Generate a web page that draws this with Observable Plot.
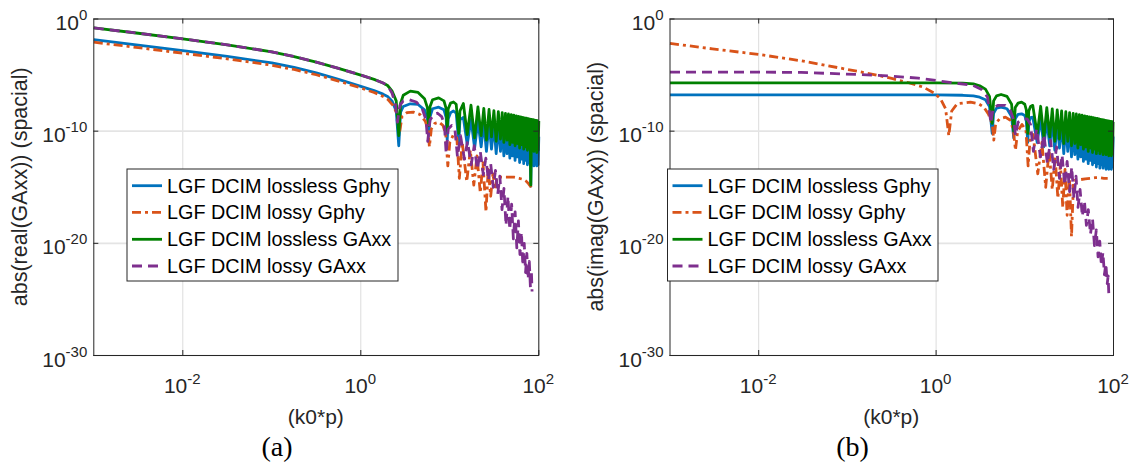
<!DOCTYPE html>
<html>
<head>
<meta charset="utf-8">
<script src="https://cdn.jsdelivr.net/npm/d3@7"></script>
<script src="https://cdn.jsdelivr.net/npm/@observablehq/plot@0.6"></script>
<style>
  body { margin: 0; background: #fff; }
  #wrap { position: relative; width: 1138px; height: 466px; overflow: hidden; background: #fff; }
  #wrap svg { position: absolute; top: 0; }
</style>
</head>
<body>
<div id="wrap"></div>
<script>
// ---------- legend / style data ----------
const seriesNames = ["LGF DCIM lossless Gphy", "LGF DCIM lossy Gphy", "LGF DCIM lossless GAxx", "LGF DCIM lossy GAxx"];
const seriesColors = ["#0072BD", "#D95319", "#008000", "#7E2F8E"];
const seriesDash = [null, "9,4,3,4", null, "10,6"];

// ---------- tick data ----------
const xTicks = [1e-2, 1, 1e2];
const xTickExp = ["-2", "0", "2"];
const yTicks = [1, 1e-10, 1e-20, 1e-30];
const yTickExp = ["0", "-10", "-20", "-30"];

// ---------- panel (a): abs(real(GAxx)); y values are log10 exponents ----------
const aLosslessX = [0.001, 0.00316, 0.01, 0.0316, 0.1, 0.178, 0.316, 0.562, 1, 1.41, 1.78, 2.0, 2.24, 2.5,
  2.67, 2.8, 3.0, 3.6, 4.4, 5.2, 5.6, 5.8, 6.0, 6.4, 7.5, 8.6, 9.1, 9.35, 9.6, 10.2, 11.0, 11.8, 12.6, 13.0,
  14.2, 15.7, 17.3, 19.0, 20.7, 22.5, 24.1, 25.8, 27.6, 29.4, 31.3, 33.2, 35.1, 37.1, 38.8, 40.5,
  42.2, 43.9, 45.6, 47.3, 49.0, 50.7, 52.4, 54.1, 55.8, 57.5, 59.2, 60.9, 62.6, 64.3, 66.0, 67.7,
  69.4, 71.1, 72.8, 74.5, 76.2, 77.9, 79.6, 81.3, 83.0, 84.7, 86.4, 88.1, 89.8, 91.5, 93.2, 94.9,
  96.6, 98.3, 100];
const aLosslessGphyY = [-1.83, -2.32, -2.81, -3.33, -3.92, -4.32, -4.8, -5.38, -6.0, -6.38, -6.7, -6.9, -7.3, -8.2,
  -11.3, -8.3, -7.8, -7.56, -7.62, -8.1, -8.9, -10.4, -8.7, -8.0, -7.86, -8.1, -8.8, -10.8, -8.9, -8.35, -8.2, -8.4, -11.0, -9.0,
  -8.78, -11.2, -8.95, -11.5, -9.11, -11.4, -9.25, -11.8, -9.37, -11.6, -9.48, -12.0, -9.58, -11.8, -9.67, -12.2,
  -9.74, -12.0, -9.81, -12.4, -9.87, -12.2, -9.93, -12.6, -9.99, -12.3, -10.04, -12.8, -10.09, -12.5, -10.13, -12.9,
  -10.18, -12.6, -10.22, -13.0, -10.26, -12.8, -10.30, -14.9, -10.33, -12.9, -10.37, -13.1, -10.40, -12.9, -10.43, -13.1,
  -10.47, -13.0, -10.5];
const aLosslessGAxxY = [-0.79, -1.27, -1.77, -2.3, -2.93, -3.35, -3.85, -4.4, -5.0, -5.38, -5.7, -5.93, -6.4, -7.3,
  -10.4, -7.5, -6.8, -6.43, -6.55, -7.1, -7.9, -9.5, -7.8, -7.2, -7.03, -7.3, -8.0, -10.0, -8.0, -7.5, -7.4, -7.6, -10.2, -8.2,
  -7.53, -10.3, -7.69, -10.6, -7.84, -10.4, -7.96, -10.8, -8.07, -10.5, -8.17, -10.9, -8.26, -10.7, -8.34, -11.0,
  -8.41, -10.8, -8.47, -11.2, -8.53, -11.0, -8.58, -11.3, -8.63, -11.1, -8.68, -11.5, -8.73, -11.2, -8.77, -11.6,
  -8.81, -11.4, -8.85, -11.7, -8.88, -11.5, -8.92, -14.8, -8.95, -11.6, -8.98, -11.8, -9.01, -11.6, -9.04, -11.9,
  -9.07, -11.7, -9.1];
const aLossyGphyX = [0.001, 0.00316, 0.01, 0.0316, 0.1, 0.178, 0.316, 0.562, 1, 1.41, 1.78, 2.0, 2.3, 2.57,
  2.72, 2.9, 3.3, 3.9, 4.6, 5.3, 5.7, 5.9, 6.2, 6.8, 7.6, 8.4, 9.0, 9.5, 10.0, 11.0, 12.0, 12.8,
  13.8, 15.5, 17.0, 18.6, 20.2, 22.0, 23.6, 25.5, 27.0, 28.8, 30.5, 32.3, 34, 40, 46, 52.5, 60, 67, 72, 77, 82, 86.5];
const aLossyGphyY = [-2.07, -2.55, -3.05, -3.55, -4.12, -4.5, -4.97, -5.53, -6.15, -6.55, -6.9, -7.15, -7.7, -8.5,
  -10.2, -8.7, -8.35, -8.3, -8.5, -9.1, -9.9, -11.4, -9.8, -9.3, -9.2, -9.5, -10.3, -13.1, -11.0, -10.3, -10.6, -14.2,
  -11.0, -14.5, -11.7, -14.8, -12.2, -15.5, -12.8, -17.2, -13.4, -15.8, -13.8, -15.2, -14.1, -14.1, -14.1, -14.1, -14.2, -14.3, -14.45, -14.7, -15.0, -15.3];
const aLossyGAxxX = [0.001, 0.00316, 0.01, 0.0316, 0.1, 0.178, 0.316, 0.562, 1, 1.41, 1.78, 2.0, 2.24, 2.45,
  2.58, 2.75, 3.0, 3.5, 4.2, 4.9, 5.4, 5.65, 6.0, 6.6, 7.3, 8.1, 8.7, 9.1, 9.6, 10.5, 11.4, 12.2,
  13.2, 14.6, 15.8, 17.4, 18.8, 20.4, 22.0, 23.8, 25.4, 27.2, 28.8, 30.8, 32.6, 34.6, 36.5, 38.6,
  40.6, 42.8, 45, 47.2, 49.5, 51.8, 54.2, 56.6, 59, 61.4, 63.8, 66.2, 68.6, 71, 73.4, 75.8, 78.2, 80.6, 82.5, 84];
const aLossyGAxxY = [-0.79, -1.27, -1.77, -2.3, -2.93, -3.35, -3.85, -4.4, -5.0, -5.38, -5.7, -5.95, -6.6, -7.6,
  -9.2, -7.7, -7.3, -7.2, -7.4, -8.0, -9.0, -10.9, -9.0, -8.5, -8.4, -8.7, -9.4, -12.0, -9.8, -9.5, -9.8, -12.3,
  -10.4, -12.5, -10.9, -13.0, -11.3, -13.4, -11.8, -13.9, -12.4, -14.4, -12.9, -15.0, -13.5, -15.6, -14.0, -17.0,
  -15.1, -18.4, -15.8, -18.8, -16.5, -19.6, -17.2, -20.4, -18.0, -21.0, -19.0, -22.0, -20.0, -22.6, -20.9, -23.2, -21.6, -24.0, -22.4, -24.3];

// ---------- panel (b): abs(imag(GAxx)); y values are log10 exponents ----------
const bLosslessX = [0.001, 0.01, 0.1, 1, 2.0, 2.63, 3.1, 3.6, 4.0,
  4.29, 4.45, 4.8, 5.4, 6.3, 7.1, 7.5, 7.8, 8.4, 9.2, 10.0, 10.4, 10.8, 11.1, 11.6, 12.3,
  13.8, 15.1, 16.4, 17.7, 19.1, 20.4, 21.8, 23.2, 24.6, 26.0, 27.5, 29.0, 30.5, 32.0, 33.6, 35.1,
  36.6, 38.1, 39.7, 41.2, 42.7, 44.2, 45.8, 47.3, 48.8, 50.3, 51.9, 53.4, 54.9, 56.4, 58.0, 59.5,
  61.0, 62.5, 64.1, 65.6, 67.1, 68.6, 70.2, 71.7, 73.2, 74.7, 76.3, 77.8, 79.3, 80.8, 82.4, 83.9,
  85.4, 86.9, 88.5, 90.0, 91.5, 93.0, 94.6, 96.1, 97.6, 99.0, 100];
const bLosslessGphyY = [-6.76, -6.76, -6.76, -6.77, -6.8, -6.86, -6.97, -7.2, -7.8,
  -10.2, -8.4, -7.95, -7.86, -8.0, -8.7, -10.6, -8.9, -8.5, -8.45, -8.6, -9.1, -11.0, -9.2, -8.8, -8.75,
  -11.0, -8.88, -11.4, -9.02, -11.3, -9.14, -11.7, -9.25, -11.5, -9.35, -12.0, -9.44, -11.8, -9.53, -12.3, -9.61,
  -12.1, -9.68, -12.5, -9.74, -12.3, -9.80, -12.7, -9.86, -12.5, -9.91, -12.9, -9.96, -12.6, -10.01, -13.0, -10.05,
  -12.8, -10.09, -13.2, -10.13, -12.9, -10.17, -13.3, -10.21, -13.0, -10.24, -13.3, -10.28, -13.1, -10.31, -13.4, -10.34,
  -13.1, -10.37, -13.4, -10.40, -13.2, -10.43, -13.4, -10.46, -13.2, -10.48, -10.5];
const bLosslessGAxxY = [-5.69, -5.69, -5.69, -5.7, -5.72, -5.78, -5.95, -6.25, -6.9,
  -9.3, -7.3, -6.85, -6.73, -6.9, -7.6, -10.0, -7.9, -7.5, -7.41, -7.6, -8.1, -10.2, -8.2, -7.8, -7.7,
  -10.3, -7.78, -10.6, -7.90, -10.5, -8.01, -10.9, -8.10, -10.7, -8.19, -11.1, -8.27, -10.9, -8.34, -11.3, -8.41,
  -11.1, -8.47, -11.5, -8.53, -11.2, -8.58, -11.6, -8.63, -11.4, -8.68, -11.8, -8.72, -11.5, -8.76, -11.9, -8.80,
  -11.6, -8.84, -12.0, -8.87, -11.7, -8.91, -12.0, -8.94, -11.8, -8.97, -12.1, -9.00, -11.9, -9.03, -12.1, -9.06,
  -11.9, -9.08, -12.2, -9.11, -12.0, -9.13, -12.2, -9.16, -12.0, -9.18, -9.2];
const bLossyGphyX = [0.001, 0.003, 0.01, 0.03, 0.092, 0.2, 0.316, 0.5, 0.72, 0.95, 1.12, 1.28,
  1.39, 1.5, 1.73, 2.44, 3.0, 3.45, 3.9, 4.3, 4.47, 4.7, 5.2, 6.05, 6.8, 7.4, 7.85, 8.3, 9.3, 10.3,
  10.9, 11.6, 12.4, 14.0, 15.6, 17.2, 18.8, 20.4, 22.0, 23.6, 25.2, 26.8, 28.4, 30.0, 31.8, 33.6, 35.5,
  40, 48, 55, 62, 70, 78, 86];
const bLossyGphyY = [-2.18, -2.66, -3.16, -3.72, -4.44, -4.95, -5.3, -5.7, -6.08, -6.6, -7.1, -8.0,
  -10.4, -8.2, -7.56, -7.41, -7.55, -7.86, -8.5, -9.4, -10.8, -9.3, -8.9, -8.75, -9.0, -9.8, -11.7, -10.0, -9.4, -9.9,
  -13.1, -10.2, -10.3, -13.8, -11.0, -15.0, -11.7, -15.2, -12.3, -16.0, -12.9, -16.8, -13.4, -17.5, -13.9, -19.4, -14.4,
  -14.35, -14.25, -14.2, -14.15, -14.15, -14.2, -14.2];
const bLossyGAxxX = [0.001, 0.01, 0.03, 0.133, 0.3, 0.63, 1.12, 1.8, 2.63, 3.3, 3.8,
  4.15, 4.4, 5.0, 6.05, 6.9, 7.5, 7.85, 8.4, 9.6, 10.6, 11.6, 12.5, 13.6, 15.0, 16.4, 18.0, 19.5,
  21.2, 22.8, 24.6, 26.3, 28.2, 30.0, 32.0, 33.8, 35.8, 37.8, 39.8, 42, 44.5, 47, 49.5, 52, 55, 58,
  61, 64, 67, 70, 73, 76, 79, 82, 85, 87, 88.5];
const bLossyGAxxY = [-4.74, -4.74, -4.76, -4.95, -5.08, -5.27, -5.54, -5.75, -5.93, -6.3, -6.97,
  -9.3, -7.9, -7.7, -7.7, -8.2, -9.0, -10.4, -9.2, -8.9, -8.9, -9.4, -11.8, -9.8, -12.3, -10.3, -12.9, -10.8,
  -13.4, -11.4, -14.2, -12.1, -14.8, -12.7, -15.4, -13.2, -16.0, -14.0, -16.8, -15.2, -17.6, -16.2, -18.4, -17.0, -19.2, -17.8,
  -20.2, -18.8, -21.2, -19.8, -22.0, -20.8, -22.8, -21.8, -23.6, -22.9, -24.5];

// ---------- layout ----------
const FONT = "'Liberation Sans', Arial, Helvetica, sans-serif";
const SERIF = "'Liberation Serif', 'Times New Roman', serif";
const TXT = "#262626";

function makePanel(cfg) {
  const W = 569, H = 466, mt = 18.5, mb = 111;
  const innerH = H - mt - mb, innerW = W - cfg.ml - cfg.mr;
  const lines = cfg.series.map((s, i) => Plot.line(s.x, {
    x: s.x,
    y: s.y.map(e => Math.pow(10, e)),
    stroke: seriesColors[i],
    strokeWidth: 2.8,
    strokeDasharray: seriesDash[i] || undefined,
    strokeLinecap: "butt",
    strokeLinejoin: "round"
  }));
  const plot = Plot.plot({
    width: W, height: H,
    marginLeft: cfg.ml, marginRight: cfg.mr, marginTop: mt, marginBottom: mb,
    x: {type: "log", domain: [1e-3, 1e2], axis: null},
    y: {type: "log", domain: [1e-30, 1], axis: null},
    style: {background: "transparent", overflow: "visible"},
    marks: [
      Plot.gridX(xTicks, {stroke: "#dcdcdc", strokeOpacity: 1, strokeWidth: 1}),
      Plot.gridY(yTicks, {stroke: "#e4e4e4", strokeOpacity: 1, strokeWidth: 1.6}),
      ...lines,
      Plot.frame({stroke: TXT, strokeWidth: 1}),
      Plot.tickX(xTicks, {x: d => d, stroke: TXT, insetTop: innerH - 5}),
      Plot.tickX(xTicks, {x: d => d, stroke: TXT, insetBottom: innerH - 5}),
      Plot.tickY(yTicks, {y: d => d, stroke: TXT, insetRight: innerW - 5}),
      Plot.tickY(yTicks, {y: d => d, stroke: TXT, insetLeft: innerW - 5})
    ]
  });
  plot.style.left = cfg.left + "px";
  const sx = plot.scale("x"), sy = plot.scale("y");
  const svg = d3.select(plot);
  const g = svg.append("g").attr("font-family", FONT).attr("fill", TXT);
  xTicks.forEach((v, i) => {
    const t = g.append("text").attr("x", sx.apply(v)).attr("y", 393)
      .attr("text-anchor", "middle").attr("font-size", 21);
    t.append("tspan").text("10");
    t.append("tspan").attr("font-size", 15).attr("dy", -9).text(xTickExp[i]);
  });
  yTicks.forEach((v, i) => {
    const t = g.append("text").attr("x", cfg.ml - 6).attr("y", sy.apply(v) + 11.5)
      .attr("text-anchor", "end").attr("font-size", 21);
    t.append("tspan").text("10");
    t.append("tspan").attr("font-size", 15).attr("dy", -10).text(yTickExp[i]);
  });
  // axis labels
  const cx = cfg.ml + innerW / 2, cy = mt + innerH / 2;
  g.append("text").attr("x", cx).attr("y", 424).attr("text-anchor", "middle")
    .attr("font-size", 21).text("(k0*p)");
  g.append("text").attr("transform", `translate(${cfg.ylx},${cy}) rotate(-90)`)
    .attr("text-anchor", "middle").attr("font-size", 21.5).text(cfg.ylabel);
  // caption
  svg.append("text").attr("x", cfg.capX).attr("y", 456).attr("text-anchor", "middle")
    .attr("font-family", SERIF).attr("font-size", 28).attr("fill", "#000").text(cfg.caption);
  // legend
  const L = cfg.legend;
  const lg = svg.append("g");
  lg.append("rect").attr("x", L.x).attr("y", 169).attr("width", L.w).attr("height", 112)
    .attr("fill", "#fff").attr("stroke", TXT).attr("stroke-width", 1);
  const rows = [185.7, 212.3, 239.3, 266];
  seriesNames.forEach((name, i) => {
    lg.append("line").attr("x1", L.x + 5).attr("x2", L.x + 35).attr("y1", rows[i]).attr("y2", rows[i])
      .attr("stroke", seriesColors[i]).attr("stroke-width", 2.8)
      .attr("stroke-dasharray", seriesDash[i] || null);
    lg.append("text").attr("x", L.x + 40).attr("y", rows[i] + 6.8)
      .attr("text-anchor", "start")
      .attr("font-family", FONT).attr("font-size", 19.8).attr("fill", "#000").text(name);
  });
  return plot;
}

const wrap = document.getElementById("wrap");
wrap.appendChild(makePanel({
  left: 0, ml: 93.3, mr: 569 - 538.3, ylx: 27, ylabel: "abs(real(GAxx)) (spacial)",
  caption: "(a)", capX: 277, legend: {x: 127, w: 271},
  series: [
    {x: aLosslessX, y: aLosslessGphyY},
    {x: aLossyGphyX, y: aLossyGphyY},
    {x: aLosslessX, y: aLosslessGAxxY},
    {x: aLossyGAxxX, y: aLossyGAxxY}
  ]
}));
wrap.appendChild(makePanel({
  left: 569, ml: 100.5, mr: 569 - 544, ylx: 34, ylabel: "abs(imag(GAxx)) (spacial)",
  caption: "(b)", capX: 283.5, legend: {x: 98.5, w: 270.5},
  series: [
    {x: bLosslessX, y: bLosslessGphyY},
    {x: bLossyGphyX, y: bLossyGphyY},
    {x: bLosslessX, y: bLosslessGAxxY},
    {x: bLossyGAxxX, y: bLossyGAxxY}
  ]
}));
</script>
</body>
</html>
